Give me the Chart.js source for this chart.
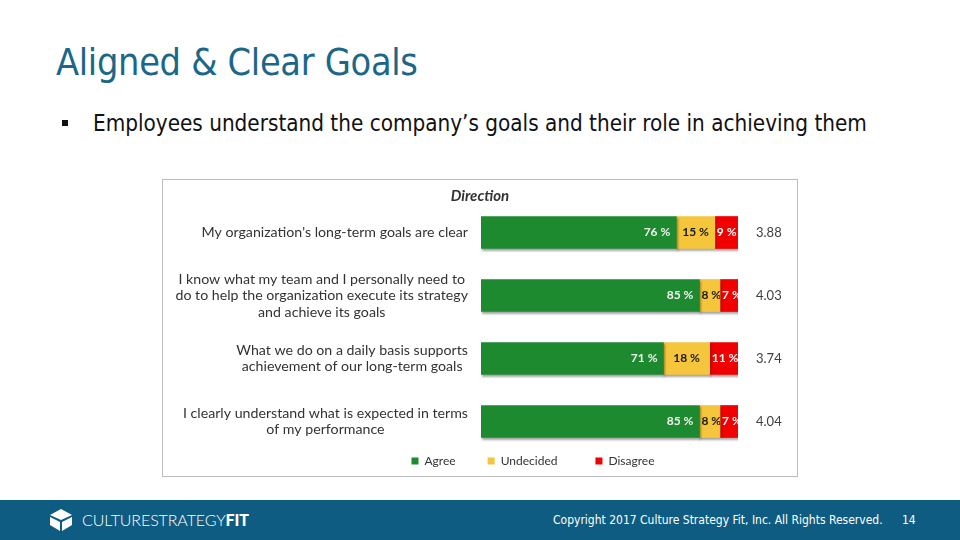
<!DOCTYPE html>
<html>
<head>
<meta charset="utf-8">
<script src="https://cdn.jsdelivr.net/npm/chart.js@4"></script>
<style>
  html, body { margin: 0; padding: 0; }
  body { width: 960px; height: 540px; position: relative; background: #fff; overflow: hidden; font-family: 'DejaVu Sans', sans-serif; }
  #title { position: absolute; left: 56px; top: 40px; font-size: 37.5px; color: #1b6788; font-family: 'DejaVu Sans Condensed', 'DejaVu Sans', sans-serif; letter-spacing: -0.3px; }
  #bullet { position: absolute; left: 62px; top: 110px; font-size: 22.3px; color: #111; font-family: 'DejaVu Sans Condensed', 'DejaVu Sans', sans-serif; }
  #bullet .sq { display: inline-block; width: 6px; height: 6px; background: #111; margin-right: 25px; vertical-align: middle; position: relative; top: -2px; }
  #chartBox { position: absolute; left: 162px; top: 179px; width: 634px; height: 296px; border: 1px solid #bdbdbd; overflow: hidden; }
  #footer { position: absolute; left: 0; top: 500px; width: 960px; height: 40px; background: #0f5c82; color: #fff; }
  #logo { position: absolute; left: 48px; top: 8px; }
  #brand { position: absolute; left: 82px; top: 10px; font-family: 'Lato', sans-serif; font-size: 16px; letter-spacing: -0.1px; font-weight: 300; }
  #brand b { font-weight: 900; }
  #copy { position: absolute; left: 553px; top: 13px; font-size: 12px; font-family: 'DejaVu Sans Condensed', 'DejaVu Sans', sans-serif; }
  #page { position: absolute; left: 902px; top: 13px; font-size: 12px; font-family: 'DejaVu Sans Condensed', 'DejaVu Sans', sans-serif; }
</style>
</head>
<body>
<div id="title">Aligned &amp; Clear Goals</div>
<div id="bullet"><span class="sq"></span>Employees understand the company’s goals and their role in achieving them</div>
<div id="chartBox"><canvas id="directionChart"></canvas></div>
<div id="footer">
  <svg id="logo" width="26" height="24" viewBox="0 0 26 24">
    <polygon points="13,1 24,7 13,12 2,7" fill="#fff"/>
    <polygon points="2,9 12,14 12,23 2,17" fill="#fff"/>
    <polygon points="14,14 24,9 24,17 14,23" fill="#fff"/>
  </svg>
  <div id="brand">CULTURESTRATEGY<b>FIT</b></div>
  <div id="copy">Copyright 2017 Culture Strategy Fit, Inc. All Rights Reserved.</div>
  <div id="page">14</div>
</div>
<script>
// Survey statements (multi-line as in the slide)
const questions = [
    ["My organization's long-term goals are clear"],
    ["I know what my team and I personally need to", "do to help the organization execute its strategy", "and achieve its goals"],
    ["What we do on a daily basis supports", "achievement of our long-term goals"],
    ["I clearly understand what is expected in terms", "of my performance"]
];
const agree = [76, 85, 71, 85];
const undecided = [15, 8, 18, 8];
const disagree = [9, 7, 11, 7];
const scores = ['3.88', '4.03', '3.74', '4.04'];
const chartTitle = 'Direction';

const LABEL_FONT = "'Lato', sans-serif";

// Tekst på de enkelte segmenter, klippet til segmentets kant
const segmentLabels = {
    id: 'segmentLabels',
    afterDatasetsDraw(chart) {
        const ctx = chart.ctx;
        const colors = ['#f2f2f2', '#1a1a1a', '#ffffff'];
        chart.data.datasets.forEach((ds, di) => {
            const meta = chart.getDatasetMeta(di);
            meta.data.forEach((bar, i) => {
                const left = Math.min(bar.base, bar.x);
                const right = Math.max(bar.base, bar.x);
                ctx.save();
                ctx.beginPath();
                ctx.rect(left, bar.y - bar.height / 2, right - left, bar.height);
                ctx.clip();
                ctx.font = "bold 12px " + LABEL_FONT;
                ctx.fillStyle = colors[di];
                ctx.textBaseline = 'middle';
                const txt = ds.data[i] + ' %';
                if (di === 0) {
                    ctx.textAlign = 'right';
                    ctx.fillText(txt, right - 6, bar.y);
                } else {
                    const w = ctx.measureText(txt).width;
                    ctx.textAlign = 'left';
                    ctx.fillText(txt, left + Math.max(2, (right - left - w) / 2), bar.y);
                }
                ctx.restore();
            });
        });
    }
};

// Spørgsmål: blok højrestillet, linjer centreret i blokken + titel
const questionLabels = {
    id: 'questionLabels',
    afterDraw(chart) {
        const ctx = chart.ctx;
        const yScale = chart.scales.y;
        const rightEdge = yScale.right - 13;
        const lineH = 16.5;
        ctx.save();
        ctx.font = "14.2px " + LABEL_FONT;
        ctx.fillStyle = '#333333';
        ctx.textAlign = 'center';
        ctx.textBaseline = 'middle';
        questions.forEach((lines, i) => {
            const cy = yScale.getPixelForValue(i);
            const maxW = Math.max(...lines.map(l => ctx.measureText(l).width));
            const cx = rightEdge - maxW / 2;
            const top = cy - (lines.length - 1) * lineH / 2;
            lines.forEach((l, k) => ctx.fillText(l, cx, top + k * lineH));
        });
        // titel centreret over hele boksen
        ctx.font = "italic bold 15px " + LABEL_FONT;
        ctx.fillText(chartTitle, chart.width / 2, 16);
        ctx.restore();
    }
};

const barShadow = {
    id: 'barShadow',
    beforeDatasetsDraw(chart) {
        const ctx = chart.ctx;
        ctx.save();
        ctx.shadowColor = 'rgba(0,0,0,0.35)';
        ctx.shadowOffsetX = 1;
        ctx.shadowOffsetY = 2;
        ctx.shadowBlur = 2;
    },
    afterDatasetsDraw(chart) {
        chart.ctx.restore();
    }
};

// ekstra luft efter de to første legend-tekster
const legendGaps = ['\u2002\u2002\u2002\u2002\u2002', '\u2002\u2002\u2002\u2002\u2002\u2002', ''];

new Chart(document.getElementById('directionChart'), {
    type: 'bar',
    data: {
        labels: questions,
        datasets: [
            { label: 'Agree', data: agree, backgroundColor: '#1e8a2f', barThickness: 32 },
            { label: 'Undecided', data: undecided, backgroundColor: '#f5c53c', barThickness: 32 },
            { label: 'Disagree', data: disagree, backgroundColor: '#f00000', barThickness: 32 }
        ]
    },
    options: {
        indexAxis: 'y',
        responsive: true,
        maintainAspectRatio: false,
        animation: false,
        layout: { padding: { left: 106, right: 0, top: 21, bottom: -1 } },
        scales: {
            x: { stacked: true, min: 0, max: 100, display: false },
            y: {
                stacked: true,
                position: 'left',
                grid: { display: false },
                border: { display: false },
                ticks: { display: false },
                afterFit(scale) { scale.width = 212; }
            },
            y2: {
                type: 'category',
                labels: scores,
                position: 'right',
                offset: true,
                grid: { display: false, drawTicks: false },
                border: { display: false },
                ticks: { color: '#404040', padding: 18, font: { family: LABEL_FONT, size: 13 } },
                afterFit(scale) {
                    scale.width = 59;
                    // tick-padding skal kun virke vandret
                    scale.paddingTop = 0;
                    scale.paddingBottom = 0;
                }
            }
        },
        plugins: {
            title: { display: false },
            legend: {
                position: 'bottom',
                labels: {
                    boxWidth: 7,
                    boxHeight: 7,
                    padding: 2,
                    color: '#333333',
                    font: { family: LABEL_FONT, size: 12 },
                    generateLabels(chart) {
                        return Chart.defaults.plugins.legend.labels.generateLabels(chart)
                            .map((item, i) => ({ ...item, text: item.text + legendGaps[i] }));
                    }
                }
            },
            tooltip: { enabled: false }
        }
    },
    plugins: [barShadow, segmentLabels, questionLabels]
});
</script>
</body>
</html>
